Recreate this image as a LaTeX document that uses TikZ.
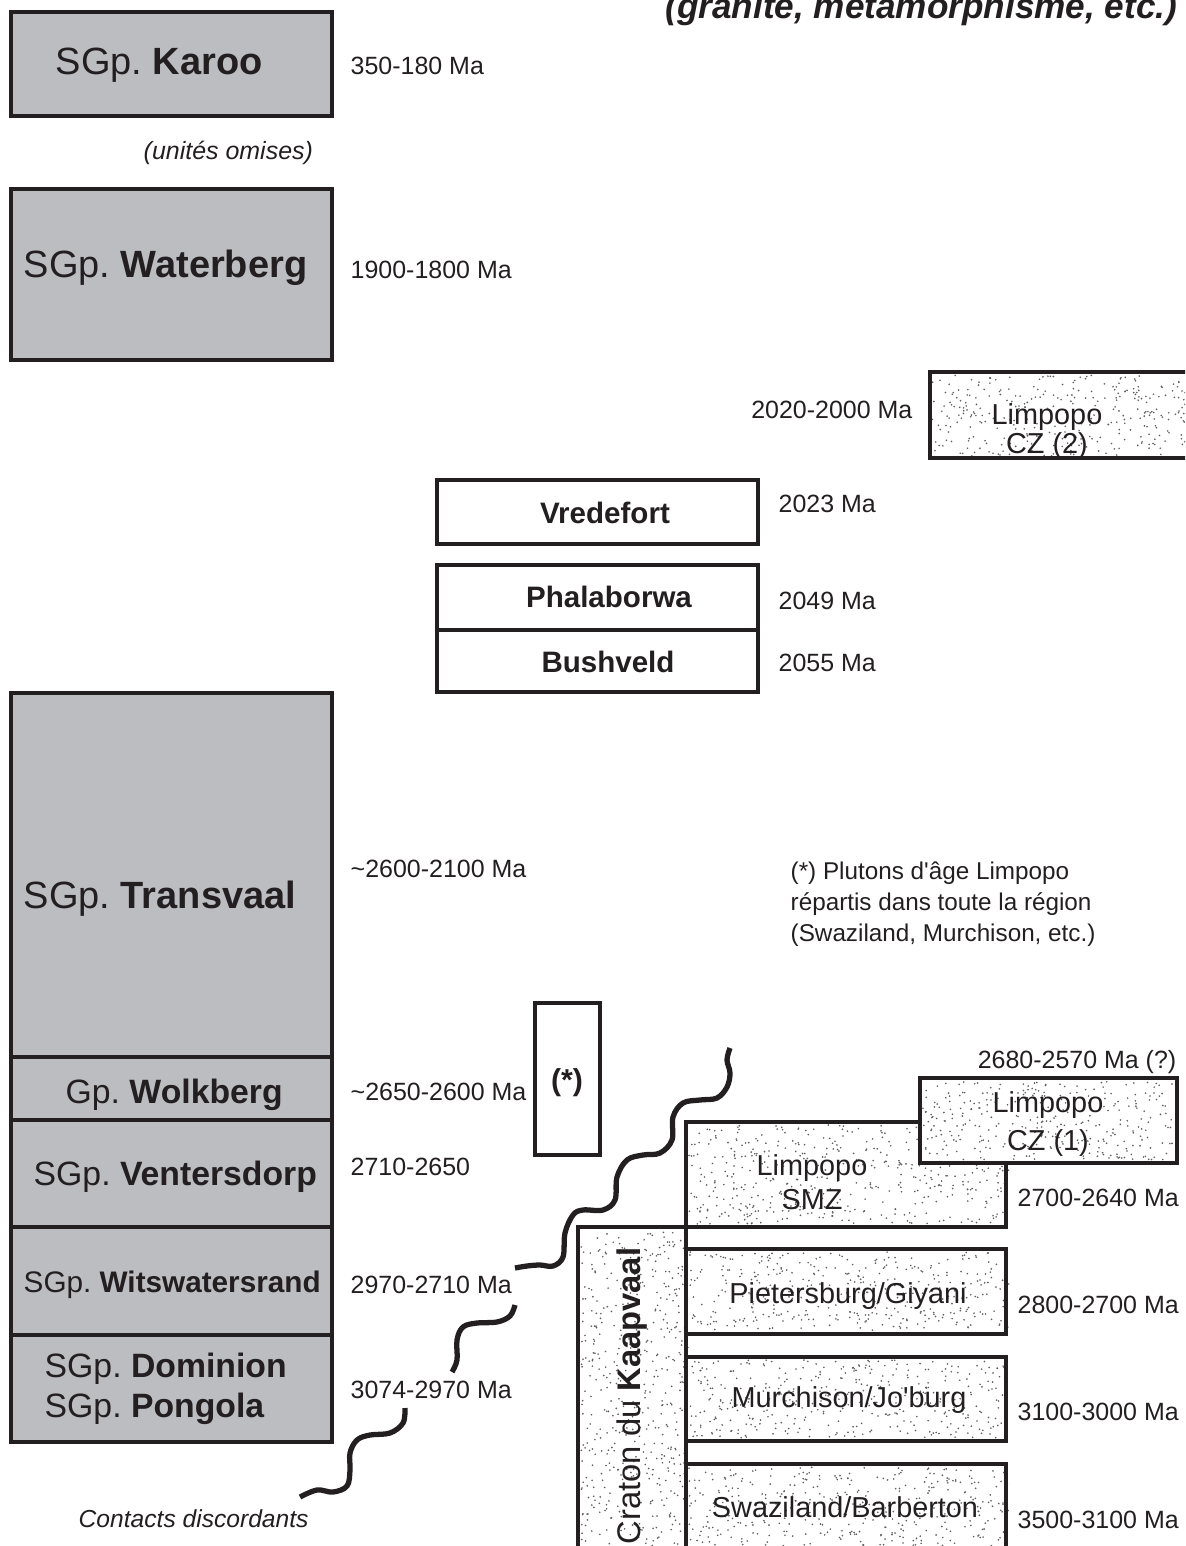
\documentclass[tikz,border=0pt]{standalone}
\usepackage{fontspec}
\setmainfont{Liberation Sans}[Ligatures=TeXOff]
\frenchspacing
\definecolor{ink}{RGB}{35,31,32}
\definecolor{sgpgray}{RGB}{188,189,193}
\definecolor{dotgray}{RGB}{95,95,95}
\tikzset{sgp/.style = {draw=ink, fill=sgpgray, line width=1pt}}
\tikzset{intrusion/.style = {draw=ink, fill=white, line width=1pt}}
\tikzset{meta/.style = {draw=ink, line width=1.1pt}}
\tikzset{unconf/.style = {draw=ink, line width=1.5pt}}
\tikzset{lbl/.style = {inner sep=0pt, text=ink, anchor=base}}
\tikzset{age/.style = {lbl, anchor=base west, font=\fontsize{7.1}{8.5}\selectfont}}
\tikzset{big/.style = {lbl, anchor=base west, font=\fontsize{10.8}{13}\selectfont}}
\tikzset{mid/.style = {lbl, anchor=base west, font=\fontsize{9.6}{11.5}\selectfont}}
\tikzset{blk/.style = {lbl, font=\fontsize{8.2}{9.8}\selectfont}}

% random dots in a box: x1, y1, x2, y2, number of dots
\newcommand{\stipple}[5]{%
  \foreach \k in {1,...,#5}{%
    \pgfmathsetmacro{\sx}{#1+rnd*(#3-#1)}%
    \pgfmathsetmacro{\sy}{#2+rnd*(#4-#2)}%
    \fill[dotgray] (\sx,\sy) circle[radius=0.26pt];
  }}

\begin{document}
\begin{tikzpicture}[x=0.01cm, y=-0.01cm]
    \pgfmathsetseed{4172}
    \useasboundingbox (0,0) rectangle (1185,1546);
    \clip (0,0) rectangle (1185,1546);

    % Columns
    \newcommand{\sgpL}{11}
    \newcommand{\sgpR}{332}
    \newcommand{\agex}{350}
    \newcommand{\crL}{578}
    \newcommand{\crR}{686}
    \newcommand{\blkR}{1006}

    \node[lbl, anchor=base east, font=\fontsize{10}{12}\selectfont\bfseries\itshape] (title) at (1178,19) {(granite, métamorphisme, etc.)};

    % Supergroups
    \draw[sgp] (\sgpL,12) rectangle (\sgpR,116);
    \draw[sgp] (\sgpL,189) rectangle (\sgpR,360);
    \draw[sgp] (\sgpL,693) rectangle (\sgpR,1057);
    \draw[sgp] (\sgpL,1057) rectangle (\sgpR,1120);
    \draw[sgp] (\sgpL,1120) rectangle (\sgpR,1227);
    \draw[sgp] (\sgpL,1227) rectangle (\sgpR,1335);
    \draw[sgp] (\sgpL,1335) rectangle (\sgpR,1442);

    \node[big] (karoo) at (55,75) {SGp. \textbf{Karoo}};
    \node[lbl, anchor=base west, font=\fontsize{7.1}{8.5}\selectfont\itshape] (omises) at (143,160) {(unités omises)};
    \node[big] (waterberg) at (23,278) {SGp. \textbf{Waterberg}};
    \node[big] (transvaal) at (23,908) {SGp. \textbf{Transvaal}};
    \node[mid] (wolkberg) at (65,1103) {Gp. \textbf{Wolkberg}};
    \node[mid] (ventersdorp) at (33,1185) {SGp. \textbf{Ventersdorp}};
    \node[lbl, anchor=base west, font=\fontsize{8.45}{10}\selectfont] (witwatersrand) at (23,1292) {SGp. \textbf{Witswatersrand}};
    \node[mid] (dominion) at (44,1377) {SGp. \textbf{Dominion}};
    \node[mid] (pongola) at (44,1417) {SGp. \textbf{Pongola}};

    \node[age] (a-karoo) at (\agex,75) {350-180 Ma};
    \node[age] (a-waterberg) at (\agex,279) {1900-1800 Ma};
    \node[age] (a-transvaal) at (\agex,877) {\textasciitilde2600-2100 Ma};
    \node[age] (a-wolkberg) at (\agex,1100) {\textasciitilde2650-2600 Ma};
    \node[age] (a-ventersdorp) at (\agex,1175) {2710-2650};
    \node[age] (a-witwatersrand) at (\agex,1293) {2970-2710 Ma};
    \node[age] (a-dominion) at (\agex,1398) {3074-2970 Ma};

    % Intrusions
    \draw[intrusion] (437,480) rectangle (758,544);
    \draw[intrusion] (437,565) rectangle (758,630);
    \draw[intrusion] (437,630) rectangle (758,692);
    \node[blk, font=\fontsize{8.4}{10}\selectfont\bfseries] (vredefort) at (605,523) {Vredefort};
    \node[blk, font=\fontsize{8.4}{10}\selectfont\bfseries] (phalaborwa) at (609,607) {Phalaborwa};
    \node[blk, font=\fontsize{8.4}{10}\selectfont\bfseries] (bushveld) at (608,672) {Bushveld};
    \node[age] (a-vredefort) at (778,512) {2023 Ma};
    \node[age] (a-phalaborwa) at (778,609) {2049 Ma};
    \node[age] (a-bushveld) at (778,671) {2055 Ma};

    \draw[intrusion] (535,1003) rectangle (600,1155);
    \node[blk, font=\fontsize{8.6}{10}\selectfont\bfseries] (plutons) at (567,1090) {(*)};

    \node[age, font=\fontsize{6.9}{8.3}\selectfont] (note1) at (790,879) {(*) Plutons d'âge Limpopo};
    \node[age, font=\fontsize{6.9}{8.3}\selectfont] (note2) at (790,910) {répartis dans toute la région};
    \node[age, font=\fontsize{6.9}{8.3}\selectfont] (note3) at (790,941) {(Swaziland, Murchison, etc.)};

    % Limpopo CZ (2)
    \fill[white] (930,372) rectangle (1200,458);
    \stipple{932}{375}{1185}{456}{320}
    \draw[meta] (930,372) rectangle (1200,458);
    \node[blk] (cz2a) at (1047,425) {Limpopo};
    \node[blk] (cz2b) at (1047,453) {CZ (2)};
    \node[age, anchor=base east] (a-cz2) at (913,419) {2020-2000 Ma};

    % Kaapvaal craton and Limpopo belt
    \fill[white] (\crL,1227) rectangle (\crR,1560);
    \stipple{\crL+3}{1230}{\crR-3}{1546}{490}
    \draw[meta] (\crL,1560) -- (\crL,1227) -- (\crR,1227) -- (\crR,1560);
    \node[lbl, anchor=center, rotate=90, font=\fontsize{9.3}{11}\selectfont] (kaapvaal) at (632,1396) {Craton du \textbf{Kaapvaal}};

    \fill[white] (\crR,1122) rectangle (\blkR,1227);
    \stipple{\crR+3}{1125}{\blkR-3}{1224}{480}
    \draw[meta] (\crR,1122) rectangle (\blkR,1227);
    \node[blk] (smza) at (812,1175) {Limpopo};
    \node[blk] (smzb) at (812,1209) {SMZ};

    \fill[white] (920,1078) rectangle (1177,1163);
    \stipple{923}{1081}{1174}{1160}{320}
    \draw[meta] (920,1078) rectangle (1177,1163);
    \node[blk] (cz1a) at (1048,1112) {Limpopo};
    \node[blk] (cz1b) at (1048,1150) {CZ (1)};

    \fill[white] (\crR,1249) rectangle (\blkR,1334);
    \stipple{\crR+3}{1252}{\blkR-3}{1331}{390}
    \draw[meta] (\crR,1249) rectangle (\blkR,1334);
    \node[blk] (pietersburg) at (848,1303) {Pietersburg/Giyani};

    \fill[white] (\crR,1357) rectangle (\blkR,1441);
    \stipple{\crR+3}{1360}{\blkR-3}{1438}{390}
    \draw[meta] (\crR,1357) rectangle (\blkR,1441);
    \node[blk] (murchison) at (849,1407) {Murchison/Jo'burg};

    \fill[white] (\crR,1464) rectangle (\blkR,1560);
    \stipple{\crR+3}{1467}{\blkR-3}{1546}{380}
    \draw[meta] (\crR,1464) rectangle (\blkR,1560);
    \node[blk] (swaziland) at (845,1517) {Swaziland/Barberton};

    \node[age, anchor=base east] (a-cz1) at (1177,1068) {2680-2570 Ma (?)};
    \node[age] (a-smz) at (1017,1206) {2700-2640 Ma};
    \node[age] (a-pietersburg) at (1017,1313) {2800-2700 Ma};
    \node[age] (a-murchison) at (1017,1420) {3100-3000 Ma};
    \node[age] (a-swaziland) at (1017,1528) {3500-3100 Ma};

    % Unconformities
    \draw[unconf] plot[smooth, tension=0.6] coordinates {(300,1497) (317,1490) (333,1492) (347,1486) (350,1470) (350,1453) (357,1440) (370,1435) (390,1433) (403,1423) (405,1408)};
    \draw[unconf] plot[smooth, tension=0.6] coordinates {(452,1372) (457,1360) (457,1340) (463,1327) (477,1323) (497,1322) (510,1316) (515,1305)};
    \draw[unconf] plot[smooth, tension=0.6] coordinates {(515,1268) (527,1266) (540,1265) (553,1266) (563,1257) (565,1233) (573,1215) (583,1210) (603,1210) (615,1200) (617,1177) (627,1160) (643,1155) (660,1153) (672,1140) (673,1117) (683,1103) (700,1100) (717,1098) (727,1087) (730,1073) (727,1060) (730,1048)};
    \node[lbl, anchor=base west, font=\fontsize{7.0}{8.4}\selectfont\itshape] (contacts) at (78,1527) {Contacts discordants};
\end{tikzpicture}
\end{document}
